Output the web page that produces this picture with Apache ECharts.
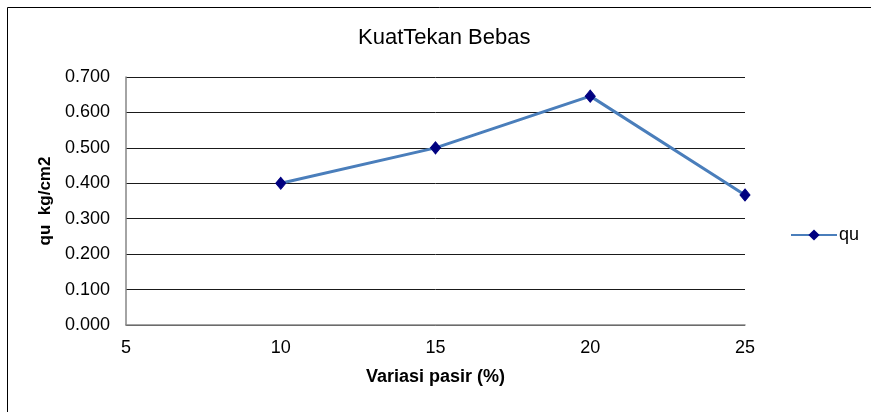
<!DOCTYPE html>
<html>
<head>
<meta charset="utf-8">
<script src="https://cdn.jsdelivr.net/npm/echarts@6/dist/echarts.min.js"></script>
<style>
  html, body { margin: 0; padding: 0; background: #fff; }
  #chart { width: 871px; height: 412px; }
</style>
</head>
<body>
<div id="chart"></div>
<script>
// data
const pasir = [10, 15, 20, 25]
const qu = [0.400, 0.500, 0.646, 0.367]
const seriesName = 'qu'

const font = 'Liberation Sans, Arial, sans-serif'
const chart = echarts.init(document.getElementById('chart'))
const option = {
  backgroundColor: '#fff',
  animation: false,
  graphic: [{
    type: 'rect',
    shape: { x: 7.5, y: 7.5, width: 880, height: 420 },
    style: { fill: 'none', stroke: '#000', lineWidth: 1 },
    silent: true
  }],
  title: {
    text: 'KuatTekan Bebas',
    left: 353,
    top: 22,
    textStyle: {
      fontFamily: font,
      fontSize: 22,
      fontWeight: 'normal',
      color: '#000'
    }
  },
  legend: {
    data: [seriesName],
    left: 785,
    top: 221,
    itemWidth: 46,
    itemHeight: 14,
    itemGap: 4,
    textStyle: {
      fontFamily: font,
      fontSize: 18,
      color: '#000',
      padding: [0, 0, 0, -3]
    }
  },
  grid: {
    left: 126,
    right: 126,
    top: 77,
    bottom: 87
  },
  xAxis: {
    type: 'value',
    min: 5,
    max: 25,
    interval: 5,
    name: 'Variasi pasir (%)',
    nameLocation: 'middle',
    nameGap: 43,
    nameTextStyle: {
      fontFamily: font,
      fontSize: 18,
      fontWeight: 'bold',
      color: '#000'
    },
    axisLine: { show: true, lineStyle: { color: '#868686', width: 1.5 } },
    axisTick: { show: false },
    splitLine: { show: false },
    axisLabel: {
      margin: 14,
      fontFamily: font,
      fontSize: 18,
      color: '#000'
    }
  },
  yAxis: {
    type: 'value',
    min: 0,
    max: 0.7,
    interval: 0.1,
    name: 'qu  kg/cm2',
    nameLocation: 'middle',
    nameGap: 69,
    nameTextStyle: {
      fontFamily: font,
      fontSize: 17,
      fontWeight: 'bold',
      color: '#000'
    },
    axisLine: { show: true, lineStyle: { color: '#868686', width: 1.5 } },
    axisTick: { show: false },
    splitLine: { show: true, lineStyle: { color: '#1a1a1a', width: 1 } },
    axisLabel: {
      margin: 16,
      fontFamily: font,
      fontSize: 18,
      color: '#000',
      formatter: v => v.toFixed(3)
    }
  },
  series: [{
    name: seriesName,
    type: 'line',
    data: pasir.map((x, i) => [x, qu[i]]),
    symbol: 'diamond',
    symbolSize: [10, 12],
    lineStyle: { color: '#4a7ebb', width: 3 },
    itemStyle: { color: '#000080', borderColor: '#000080' }
  }]
}
chart.setOption(option)
</script>
</body>
</html>
